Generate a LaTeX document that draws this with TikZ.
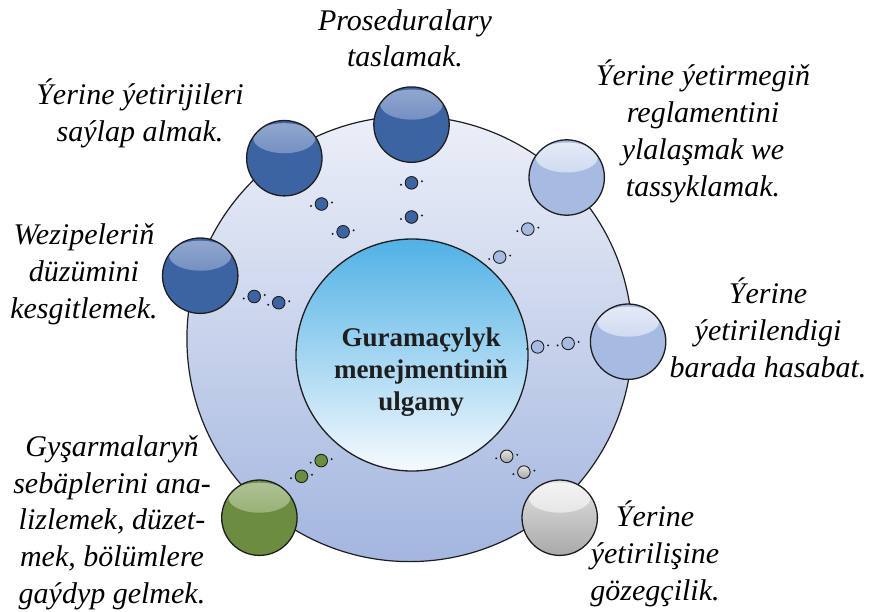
\documentclass[tikz,border=0pt]{standalone}
\usepackage{fontspec}
\setmainfont{Liberation Serif}
\usetikzlibrary{calc}
\definecolor{dkblue}{HTML}{3D64A2}
\definecolor{dkblueHa}{HTML}{93A8D0}
\definecolor{dkblueHb}{HTML}{4D71AE}
\definecolor{ltblue}{HTML}{A6BAE2}
\definecolor{ltblueHa}{HTML}{E6ECF8}
\definecolor{ltblueHb}{HTML}{B2C4E7}
\definecolor{grn}{HTML}{6C8C40}
\definecolor{grnHa}{HTML}{AFC396}
\definecolor{grnHb}{HTML}{7A9A4E}
\definecolor{gryA}{HTML}{E2E2E2}
\definecolor{gryB}{HTML}{A9A9A9}
\definecolor{gryHa}{HTML}{F4F4F4}
\definecolor{gryHb}{HTML}{D4D4D4}
\definecolor{outerTop}{HTML}{ECEFF8}
\definecolor{outerBot}{HTML}{A3B6DF}
\definecolor{innerTop}{HTML}{50B1E5}
\definecolor{innerBot}{HTML}{F6FAFE}
\definecolor{edge}{HTML}{1E1E1E}
\newcommand\mySpecks[1]{%
  \fill[edge] ($(#1)+(-10.5,2)$) circle[radius=1.1pt];
  \fill[edge] ($(#1)+(10.5,-1.5)$) circle[radius=1.1pt];}
\tikzset{
  sph/.style={circle, minimum size=75.4pt, inner sep=0pt, draw=edge, line width=1.3pt},
  hl/.style 2 args={path picture={\shade[top color=#1, bottom color=#2]
      ([yshift=20pt]path picture bounding box.center) ellipse (31pt and 15pt);}},
  dksph/.style={sph, fill=dkblue, hl={dkblueHa}{dkblueHb}},
  ltsph/.style={sph, fill=ltblue, hl={ltblueHa}{ltblueHb}},
  grsph/.style={sph, fill=grn, hl={grnHa}{grnHb}},
  gysph/.style={sph, top color=gryA, bottom color=gryB, hl={gryHa}{gryHb}},
  sdot/.style={circle, minimum size=12.6pt, inner sep=0pt, draw=edge, line width=0.9pt},
  dkdot/.style={sdot, fill=dkblue},
  ltdot/.style={sdot, fill=ltblue},
  grdot/.style={sdot, fill=grn},
  gydot/.style={sdot, top color=gryA, bottom color=gryB},
  lbl/.style={font=\fontsize{30}{36.7}\selectfont\itshape, align=center, anchor=base, inner sep=0pt},
}
\begin{document}
\begin{tikzpicture}[x=1pt,y=-1pt]
\useasboundingbox[fill=white] (0,0) rectangle (874,611);
% main circles
\node[circle, minimum size=445.4pt, inner sep=0pt, draw=edge, line width=1.2pt,
      top color=outerTop, bottom color=outerBot] (outer) at (409.6,338.9) {};
\node[circle, minimum size=232pt, inner sep=0pt, draw=edge, line width=1.3pt,
      top color=innerTop, bottom color=innerBot] (inner) at (412,355) {};
\node[font=\fontsize{27}{32.4}\selectfont\bfseries, align=center, anchor=base, inner sep=0pt, text=edge]
  (ctext) at (421,410.8) {Guramaçylyk\\menejmentiniň\\ulgamy};
% spheres
\node[dksph] (s1) at (411.5,124.6) {};
\node[dksph] (s2) at (284.3,158.2) {};
\node[dksph] (s3) at (200.2,275.7) {};
\node[ltsph] (s4) at (566.7,177.5) {};
\node[ltsph] (s5) at (628.1,341.7) {};
\node[grsph] (s6) at (259.4,517.7) {};
\node[gysph] (s7) at (559.7,517.7) {};
% small dots
\node[dkdot] (d1a) at (411.5,182.8) {};
\node[dkdot] (d1b) at (411.5,217.0) {};
\node[dkdot] (d2a) at (321.5,204.0) {};
\node[dkdot] (d2b) at (343.1,231.8) {};
\node[dkdot] (d3a) at (254.2,296.5) {};
\node[dkdot] (d3b) at (278.7,302.7) {};
\node[ltdot] (d4a) at (527.8,229.1) {};
\node[ltdot] (d4b) at (499.7,257.1) {};
\node[ltdot] (d5a) at (568.1,343.4) {};
\node[ltdot] (d5b) at (537.6,346.9) {};
\node[grdot] (d6a) at (321.2,460.6) {};
\node[grdot] (d6b) at (301.5,476.3) {};
\node[gydot] (d7a) at (506.7,456.3) {};
\node[gydot] (d7b) at (523.9,472.1) {};
\mySpecks{d1a}\mySpecks{d1b}\mySpecks{d2a}\mySpecks{d2b}
\mySpecks{d3a}\mySpecks{d3b}\mySpecks{d4a}\mySpecks{d4b}
\mySpecks{d5a}\mySpecks{d5b}\mySpecks{d6a}\mySpecks{d6b}
\mySpecks{d7a}\mySpecks{d7b}
% labels (anchor = baseline of last line)
\node[lbl] (t1) at (405,66.7) {Proseduralary\\taslamak.};
\node[lbl] (t2) at (140,141) {Ýerine ýetirijileri\\saýlap almak.};
\node[lbl] (t3) at (84,318.3) {Wezipeleriň\\düzümini\\kesgitlemek.};
\node[lbl] (t4) at (703,196) {Ýerine ýetirmegiň\\reglamentini\\ylalaşmak we\\tassyklamak.};
\node[lbl] (t5) at (768,377.3) {Ýerine\\ýetirilendigi\\barada hasabat.};
\node[lbl] (t6) at (655,600) {Ýerine\\ýetirilişine\\gözegçilik.};
\node[lbl] (t7) at (112,603.3) {Gyşarmalaryň\\sebäplerini ana-\\lizlemek, düzet-\\mek, bölümlere\\gaýdyp gelmek.};
\end{tikzpicture}
\end{document}
